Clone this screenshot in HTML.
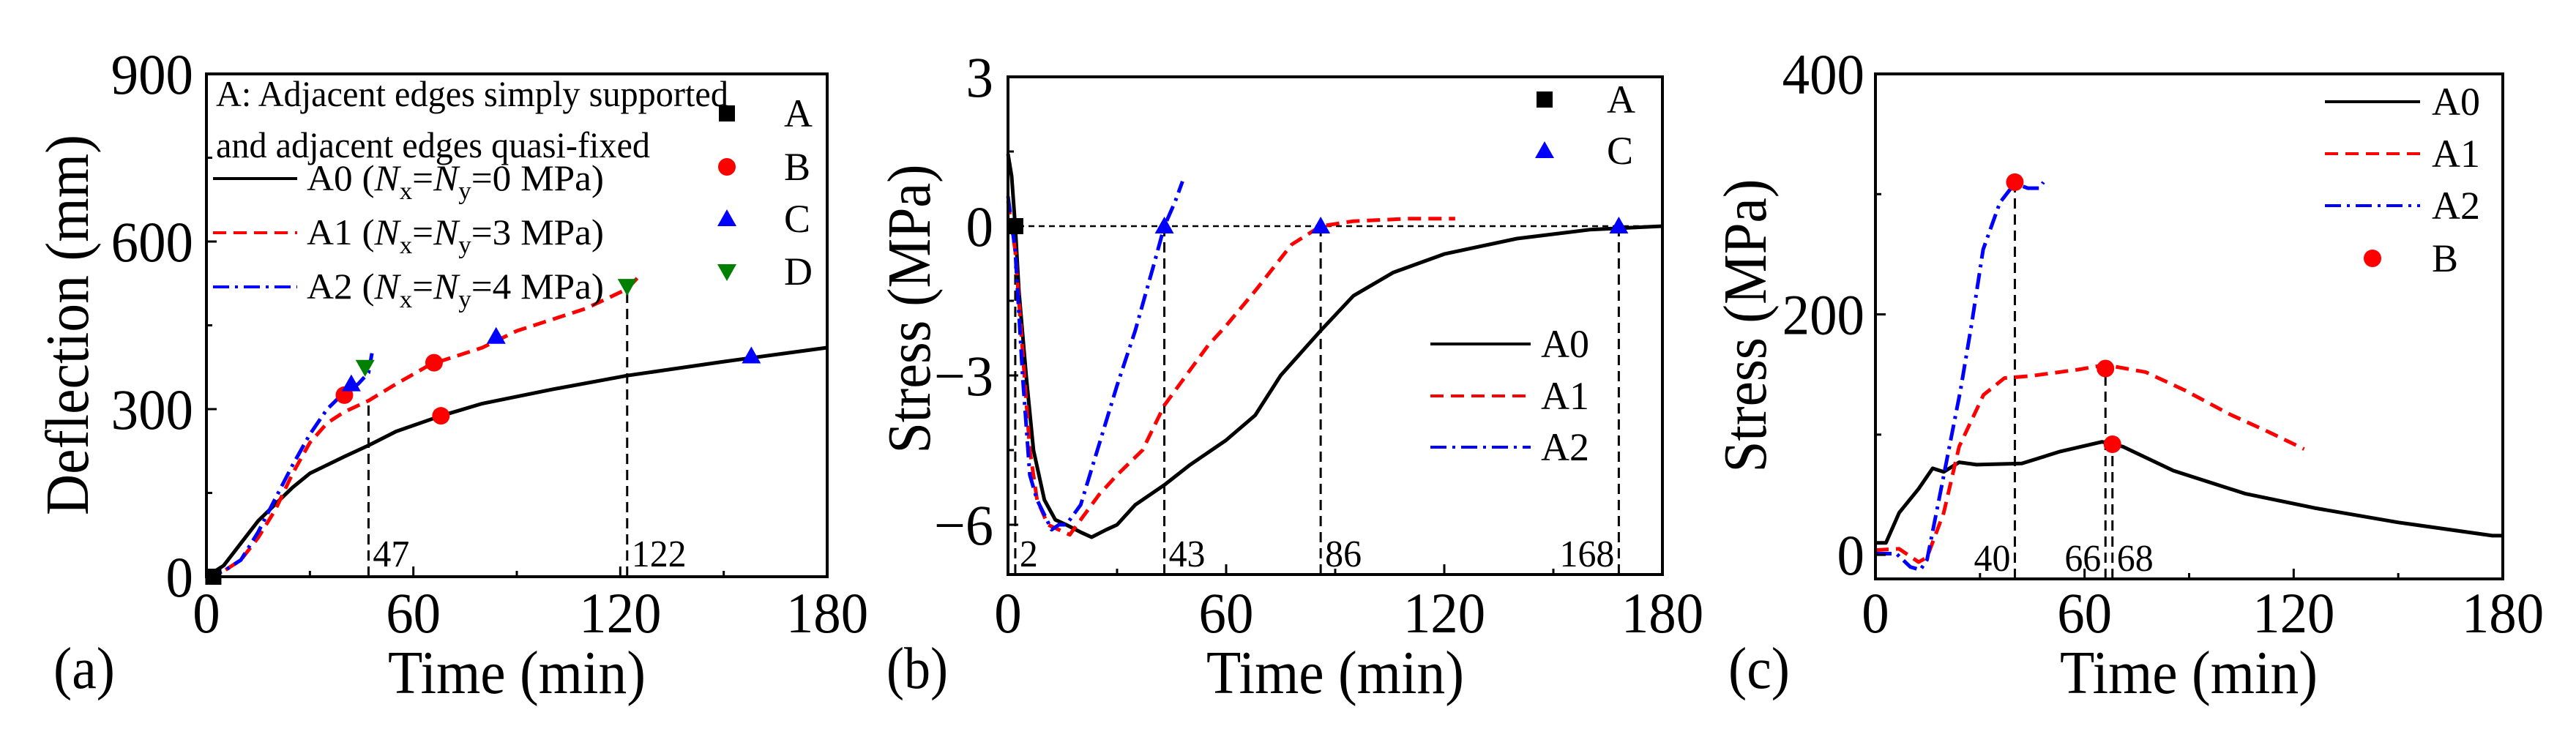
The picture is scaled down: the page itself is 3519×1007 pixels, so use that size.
<!DOCTYPE html>
<html><head><meta charset="utf-8"><style>
html,body{margin:0;padding:0;background:#fff;}
svg{display:block;}
text{font-family:"Liberation Serif","Times New Roman",serif;}
</style></head><body>
<svg id="fig" width="3519" height="1007" viewBox="0 0 3519 1007" xmlns="http://www.w3.org/2000/svg" font-family="Liberation Serif, serif"></svg>
<script>
// ---------- Panel (a) data ----------
const aX0=[0,5,10,15,20,25,30,40,47,55,68,80,100,122,150,180];
const aY0=[0,20,60,100,130,160,185,215,235,260,288,310,335,360,385,410];
const aX1=[0,5,10,15,20,25,30,35,40,47,55,65,80,90,100,110,122,125];
const aY1=[0,10,30,70,120,185,240,275,295,315,345,380,410,440,460,480,515,535];
const aX2=[0,5,10,15,20,25,30,35,40,44,47,48];
const aY2=[0,10,30,80,140,200,255,300,330,345,365,400];
const aMarkA=[[2,0]];
const aMarkB=[[40,325],[68,288],[66,383]];
const aMarkC=[[42,345],[84,430],[158,395]];
const aMarkD=[[46,375],[122,520]];
const aVlines=[[47,310],[122,515]];
const aXticks=[0,60,120,180];
const aYticks=[0,300,600,900];
// ---------- Panel (b) data ----------
const bX0=[0,1,2,3,5,7,10,13,16,20,23,27,30,35,43,50,60,68,75,86,95,106,120,140,160,180];
const bY0=[1.45,1.0,0,-1.3,-3,-4.5,-5.5,-5.9,-6.0,-6.15,-6.25,-6.1,-6.0,-5.6,-5.2,-4.8,-4.3,-3.8,-3.0,-2.1,-1.4,-0.93,-0.56,-0.25,-0.07,0];
const bX1=[0,2,4,6,8,11,14,17,20,25,30,37,43,50,55,60,68,78,86,95,110,123];
const bY1=[0.5,-0.5,-2.5,-4.5,-5.5,-6.0,-6.1,-6.2,-5.9,-5.4,-5.0,-4.5,-3.6,-2.9,-2.4,-2.0,-1.3,-0.37,0,0.1,0.15,0.15];
const bX2=[0,2,4,6,8,10,12,14,16,20,25,30,35,40,43,46,48];
const bY2=[0.6,-0.5,-3,-5,-5.5,-5.8,-6.1,-6.0,-6.0,-5.6,-4.4,-3.2,-2.1,-0.8,0,0.5,0.9];
const bMarkA=[[2,0]];
const bMarkC=[[43,0],[86,0],[168,0]];
const bVlines=[2,43,86,168];
const bXticks=[0,60,120,180];
const bYticks=[3,0,-3,-6];
// ---------- Panel (c) data ----------
const cX0=[0,3,6.8,12.4,16.4,19.6,24,29,42,53,65,71,85.5,106,126,150,177,180];
const cY0=[10,10,35,55,72,69,77,75,76,86,94,90,70,51,39,27,16,16];
const cX1=[0,6.8,12.4,14.8,19.6,24,31,37,45,58,66,77.5,88.7,101.6,113,123];
const cY1=[4,5,-6,-2,35,90,133,147,149,154,158,152,137,117,102,88];
const cX2=[0,6,10,12.9,14.8,19.6,24.4,27.6,30.9,35.7,40,43.7,47,48.2];
const cY2=[1,1,-10,-12.5,-4,66,137,192,254,293,309,305,305,310];
const cMarkB=[[40,310],[66,155],[68,92]];
const cVlines=[[40,310],[66,155],[68,92]];
const cXticks=[0,60,120,180];
const cYticks=[0,200,400];

const NS="http://www.w3.org/2000/svg";
const svg=document.getElementById('fig');
function mk(tag,attrs,parent){const e=document.createElementNS(NS,tag);for(const k in attrs)e.setAttribute(k,attrs[k]);(parent||svg).appendChild(e);return e;}
function txt(s,x,y,size,anchor,parent,len){const t=mk('text',{x:x,y:y,'font-size':size,'text-anchor':anchor||'start',fill:'#000','font-family':'Liberation Serif, serif'},parent);t.textContent=s;
  if(len){t.setAttribute('textLength',len);t.setAttribute('lengthAdjust','spacingAndGlyphs');}return t;}
function numLen(s,size){let w=0;for(const c of s)w+=(c==='\u2212'?0.56:0.48)*size;return w;}

function axes(L,R,T,B,xmin,xmax,ymin,ymax){
  return {sx:v=>L+(v-xmin)/(xmax-xmin)*(R-L), sy:v=>B-(v-ymin)/(ymax-ymin)*(B-T)};
}
function line(g,xs,ys,ax,color,dash){
  const d=xs.map((x,i)=>(i?'L':'M')+ax.sx(x).toFixed(1)+' '+ax.sy(ys[i]).toFixed(1)).join(' ');
  return mk('path',{d:d,fill:'none',stroke:color,'stroke-width':5,'stroke-dasharray':dash||'none','stroke-linejoin':'round'},g);
}
function marker(g,kind,x,y){
  let e;
  if(kind==='sq') e=mk('rect',{x:x-11,y:y-11,width:22,height:22,fill:'#000'},g);
  else if(kind==='ci') e=mk('circle',{cx:x,cy:y,r:12,fill:'#f00'},g);
  else if(kind==='up') e=mk('path',{d:`M${x} ${y-13}L${x+13} ${y+10}L${x-13} ${y+10}Z`,fill:'#00f'},g);
  else e=mk('path',{d:`M${x} ${y+13}L${x+13} ${y-10}L${x-13} ${y-10}Z`,fill:'#008000'},g);
  return e;
}
const DASH1='18 10', DASH2='22 8 4 8';
function frame(g,L,R,T,B,ax,xt,yt,xminor,yminor,ylabRight,ylabFmt){
  const f=mk('rect',{x:L,y:T,width:R-L,height:B-T,fill:'none',stroke:'#000','stroke-width':4},g);
  
  
  xt.forEach(v=>{mk('line',{x1:ax.sx(v),x2:ax.sx(v),y1:B,y2:B-14,stroke:'#000','stroke-width':3},g);
    const s=String(v);
    const t=txt(s,ax.sx(v),864,78,'middle',g,numLen(s,78));
    
    });
  xminor.forEach(v=>mk('line',{x1:ax.sx(v),x2:ax.sx(v),y1:B,y2:B-8,stroke:'#000','stroke-width':3},g));
  yt.forEach(v=>{mk('line',{x1:L,x2:L+14,y1:ax.sy(v),y2:ax.sy(v),stroke:'#000','stroke-width':3},g);
    const s=ylabFmt(v);
    const t=txt(s,ylabRight,ax.sy(v)+27,78,'end',g,numLen(s,78));
    
    });
  yminor.forEach(v=>mk('line',{x1:L,x2:L+8,y1:ax.sy(v),y2:ax.sy(v),stroke:'#000','stroke-width':3},g));
}
function fmt(v){return v<0?'\u2212'+(-v):String(v);}

// ================= Panel A =================
(function(){
  const g=mk('g',{});
  
  
  const L=282,R=1130,T=101,B=788;
  const ax=axes(L,R,T,B,0,180,0,900);
  aVlines.forEach(v=>{const l=mk('line',{x1:ax.sx(v[0]),x2:ax.sx(v[0]),y1:B,y2:ax.sy(v[1]),stroke:'#000','stroke-width':3,'stroke-dasharray':'14 8'},g);
    
    });
  const p0=line(g,aX0,aY0,ax,'#000');
  const p1=line(g,aX1,aY1,ax,'#f00',DASH1);
  const p2=line(g,aX2,aY2,ax,'#00f',DASH2);
  aMarkA.forEach(m=>{const e=marker(g,'sq',ax.sx(m[0]),ax.sy(m[1]));});
  aMarkB.forEach(m=>{const e=marker(g,'ci',ax.sx(m[0]),ax.sy(m[1]));});
  aMarkC.forEach(m=>{const e=marker(g,'up',ax.sx(m[0]),ax.sy(m[1]));});
  aMarkD.forEach(m=>{const e=marker(g,'dn',ax.sx(m[0]),ax.sy(m[1]));});
  aVlines.forEach(v=>{const s=String(v[0]);const t=txt(s,ax.sx(v[0])+6,774,52,'start',g,numLen(s,52));});
  frame(g,L,R,T,B,ax,aXticks,aYticks,[30,90,150],[150,450,750],264,fmt);
})();
(function(){
  const g=mk('g',{});
  
  
  txt('A: Adjacent edges simply supported',295,145,50,'start',g,700);
  txt('and adjacent edges quasi-fixed',295,215,50,'start',g,593);
  const rows=[['#000','none','0'],['#f00',DASH1,'3'],['#00f',DASH2,'4']];
  const ys=[260,334,408];
  rows.forEach((r,i)=>{
    mk('line',{x1:291,x2:406,y1:ys[i]-16,y2:ys[i]-16,stroke:r[0],'stroke-width':4,'stroke-dasharray':r[1]},g);
    const tt=mk('text',{x:419,y:ys[i],'font-size':50,fill:'#000','font-family':'Liberation Serif, serif',textLength:406,lengthAdjust:'spacingAndGlyphs'},g);
    
    
    tt.innerHTML=`A${i} (<tspan font-style="italic">N</tspan><tspan font-size="34" dy="12">x</tspan><tspan dy="-12">=</tspan><tspan font-style="italic">N</tspan><tspan font-size="34" dy="12">y</tspan><tspan dy="-12">=${r[2]} MPa)</tspan>`;
  });
  const mks=[['sq','A',173],['ci','B',246],['up','C',317],['dn','D',389]];
  mks.forEach(m=>{marker(g,m[0],993,m[2]-18);const l=txt(m[1],1071,m[2],54,'start',g);});
})();

// ================= Panel B =================
(function(){
  const g=mk('g',{});
  
  
  const L=1377,R=2271,T=105,B=785;
  const ax=axes(L,R,T,B,0,180,-7,3);
  const h=mk('line',{x1:L,x2:R,y1:ax.sy(0),y2:ax.sy(0),stroke:'#000','stroke-width':2.5,'stroke-dasharray':'8 6'},g);
  
  bVlines.forEach(v=>{const l=mk('line',{x1:ax.sx(v),x2:ax.sx(v),y1:B,y2:ax.sy(0),stroke:'#000','stroke-width':3,'stroke-dasharray':'14 8'},g);
    });
  const p0=line(g,bX0,bY0,ax,'#000');
  const p1=line(g,bX1,bY1,ax,'#f00',DASH1);
  const p2=line(g,bX2,bY2,ax,'#00f',DASH2);
  bMarkA.forEach(m=>{const e=marker(g,'sq',ax.sx(m[0]),ax.sy(m[1]));});
  bMarkC.forEach(m=>{const e=marker(g,'up',ax.sx(m[0]),ax.sy(m[1]));});
  bVlines.forEach((v,i)=>{const last=i===bVlines.length-1;const s=String(v);const t=txt(s,ax.sx(v)+(last?-6:6),774,52,last?'end':'start',g,numLen(s,52));});
  frame(g,L,R,T,B,ax,bXticks,bYticks,[30,90,150],[1.5,-1.5,-4.5],1357,fmt);
  marker(g,'sq',2110,154-18);
  let t=txt('A',2195,154,54,'start',g);
  marker(g,'up',2110,224-18);
  t=txt('C',2195,224,54,'start',g);
  [['#000','none','A0',488],['#f00',DASH1,'A1',559],['#00f',DASH2,'A2',629]].forEach(r=>{
    mk('line',{x1:1954,x2:2091,y1:r[3]-18,y2:r[3]-18,stroke:r[0],'stroke-width':4,'stroke-dasharray':r[1]},g);
    const l=txt(r[2],2105,r[3],54,'start',g,66);
  });
})();

// ================= Panel C =================
(function(){
  const g=mk('g',{});
  
  
  const L=2562,R=3419,T=101,B=791;
  const ax=axes(L,R,T,B,0,180,-20,400);
  cVlines.forEach(v=>{const l=mk('line',{x1:ax.sx(v[0]),x2:ax.sx(v[0]),y1:B,y2:ax.sy(v[1]),stroke:'#000','stroke-width':3,'stroke-dasharray':'14 8'},g);
    });
  const p0=line(g,cX0,cY0,ax,'#000');
  const p1=line(g,cX1,cY1,ax,'#f00',DASH1);
  const p2=line(g,cX2,cY2,ax,'#00f',DASH2);
  cMarkB.forEach(m=>{const e=marker(g,'ci',ax.sx(m[0]),ax.sy(m[1]));});
  cVlines.forEach((v,i)=>{const right=i===2;const s=String(v[0]);const t=txt(s,ax.sx(v[0])+(right?6:-6),780,52,right?'start':'end',g,numLen(s,52));});
  frame(g,L,R,T,B,ax,cXticks,cYticks,[30,90,150],[100,300],2547,fmt);
  [['#000','none','A0',157],['#f00',DASH1,'A1',228],['#00f',DASH2,'A2',299]].forEach(r=>{
    mk('line',{x1:3176,x2:3306,y1:r[3]-18,y2:r[3]-18,stroke:r[0],'stroke-width':4,'stroke-dasharray':r[1]},g);
    const l=txt(r[2],3322,r[3],54,'start',g,66);
  });
  marker(g,'ci',3241,371-18);
  const l=txt('B',3322,371,54,'start',g);
})();

function title(s,x,y,rot,name,len){const t=txt(s,x,y,84,'middle',null,len);if(rot)t.setAttribute('transform',`rotate(-90 ${x} ${y})`);
  
  }
title('Time (min)',706,947,false,'x-axis-title-a',352);
title('Time (min)',1824,947,false,'x-axis-title-b',352);
title('Time (min)',2990,947,false,'x-axis-title-c',352);
title('Deflection (mm)',120,444,true,'y-axis-title-a',520);
title('Stress (MPa)',1270,422,true,'y-axis-title-b',395);
title('Stress (MPa)',2412,445,true,'y-axis-title-c',401);
[['(a)',73,'panel-label-a'],['(b)',1211,'panel-label-b'],['(c)',2361,'panel-label-c']].forEach(p=>{
  const t=txt(p[0],p[1],940,80,'start',null,84);
  
  
});
</script>
</body></html>
